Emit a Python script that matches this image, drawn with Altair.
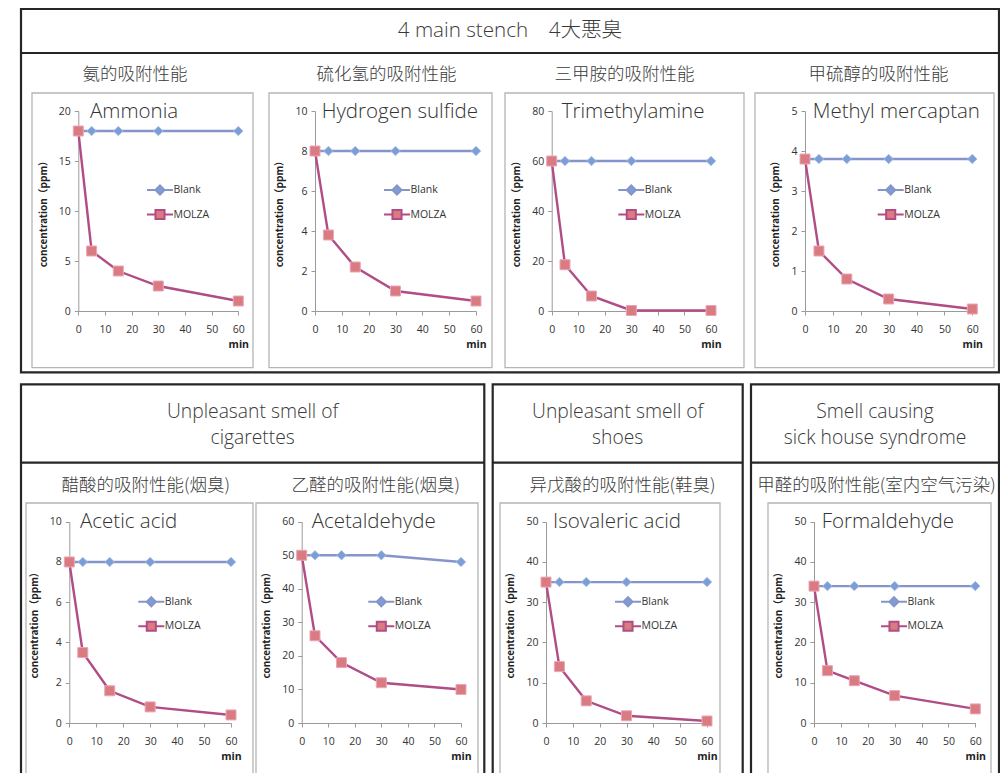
import altair as alt
import pandas as pd

# ---------------- data ----------------
TIMES = [0, 5, 15, 30, 60]
SERIES = ["Blank", "MOLZA"]

AMMONIA_BLANK = [18, 18, 18, 18, 18]
AMMONIA_MOLZA = [18, 6, 4, 2.5, 1]
H2S_BLANK = [8, 8, 8, 8, 8]
H2S_MOLZA = [8, 3.8, 2.2, 1.0, 0.5]
TMA_BLANK = [60, 60, 60, 60, 60]
TMA_MOLZA = [60, 18.5, 6, 0.2, 0.2]
MM_BLANK = [3.8, 3.8, 3.8, 3.8, 3.8]
MM_MOLZA = [3.8, 1.5, 0.8, 0.3, 0.05]
ACETIC_BLANK = [8, 8, 8, 8, 8]
ACETIC_MOLZA = [8, 3.5, 1.6, 0.8, 0.4]
ACETAL_BLANK = [50, 50, 50, 50, 48]
ACETAL_MOLZA = [50, 26, 18, 12, 10]
ISOVAL_BLANK = [35, 35, 35, 35, 35]
ISOVAL_MOLZA = [35, 14, 5.5, 1.8, 0.5]
FORMAL_BLANK = [34, 34, 34, 34, 34]
FORMAL_MOLZA = [34, 13, 10.5, 6.8, 3.5]

BLANKS = [AMMONIA_BLANK, H2S_BLANK, TMA_BLANK, MM_BLANK,
          ACETIC_BLANK, ACETAL_BLANK, ISOVAL_BLANK, FORMAL_BLANK]
MOLZAS = [AMMONIA_MOLZA, H2S_MOLZA, TMA_MOLZA, MM_MOLZA,
          ACETIC_MOLZA, ACETAL_MOLZA, ISOVAL_MOLZA, FORMAL_MOLZA]

PANEL_NAMES = ["Ammonia", "Hydrogen sulfide", "Trimethylamine", "Methyl mercaptan",
               "Acetic acid", "Acetaldehyde", "Isovaleric acid", "Formaldehyde"]
PANEL_SUBTITLES = ["氨的吸附性能", "硫化氢的吸附性能", "三甲胺的吸附性能", "甲硫醇的吸附性能",
                   "醋酸的吸附性能(烟臭)", "乙醛的吸附性能(烟臭)", "异戊酸的吸附性能(鞋臭)",
                   "甲醛的吸附性能(室内空气污染)"]
Y_TICKS = [[0, 5, 10, 15, 20], [0, 2, 4, 6, 8, 10], [0, 20, 40, 60, 80], [0, 1, 2, 3, 4, 5],
           [0, 2, 4, 6, 8, 10], [0, 10, 20, 30, 40, 50, 60], [0, 10, 20, 30, 40, 50],
           [0, 10, 20, 30, 40, 50]]
X_TICKS = [0, 10, 20, 30, 40, 50, 60]
X_UNIT = "min"
Y_TITLE = "concentration（ppm）"
HEADER_TOP = "4 main stench　4大悪臭"
HEADERS_BOTTOM = ["Unpleasant smell of\ncigarettes", "Unpleasant smell of\nshoes",
                  "Smell causing\nsick house syndrome"]

# ---------------- styling / layout (image pixel coords) ----------------
OX, OY = 8, 12
W, H = 992, 761


def X(v):
    return v - OX


def Y(v):
    return v - OY


LINE_COLORS = ["#8595c9", "#b04d87"]
MARK_FILLS = ["#7b9ed6", "#d97b80"]
MARK_STROKES = ["#a8bce6", "#eaa6b8"]
LEGEND_PATHS = [
    "M-1,0L0.3,0M1.7,0L3,0M1,-0.7L1.7,0L1,0.7L0.3,0Z",
    "M-1,0L0.3,0M1.7,0L3,0M0.3,-0.7L1.7,-0.7L1.7,0.7L0.3,0.7Z",
]
FRAME = "#262626"
BOX = "#b5b5b5"
TXT = "#3a3a3a"
LATIN = "Open Sans, Noto Sans CJK JP, sans-serif"
CJK_SC = "Noto Sans CJK SC, sans-serif"

TOP_FRAME = (21, 9, 999, 372.3)
TOP_DIV_Y = 53
BOTTOM_FRAMES = [(21, 484.3), (492.7, 742.7), (751, 999)]
BOTTOM_TOP, BOTTOM_DIV_Y, BOTTOM_END = 384.3, 462.7, 800

GRAY_BOX_X = [(32, 253), (269, 492), (505, 744), (755, 994),
              (26, 253), (256, 478), (500, 720), (768, 991)]
GRAY_BOX_Y = [(93, 367.7), (503, 800)]
DATA_X = [(78.3, 238.3), (315, 476), (551.7, 711), (805, 972.3),
          (69.3, 231), (301.7, 461), (546, 707), (814, 975.3)]
DATA_Y = [(111, 311), (521.7, 723)]
SUB_X = [135, 386.5, 624.5, 878.5, 145.8, 375.8, 622.5, 876.5]
SUB_Y = [74.5, 486]
TITLE_X = [90, 321.7, 561.7, 812.7, 80, 311.7, 553, 821.7]
TITLE_BASE = [117.5, 527.5]
LEG_X = [146, 383, 617.3, 876.7, 137.3, 367.3, 614, 880]
LEG_Y = [189, 600.7]

one = pd.DataFrame({"k": [0]})


def rect(x1, y1, x2, y2, stroke, sw):
    return alt.Chart(one).mark_rect(
        color="white", fillOpacity=0, stroke=stroke, strokeWidth=sw
    ).encode(x=alt.value(X(x1)), x2=alt.value(X(x2)), y=alt.value(Y(y1)), y2=alt.value(Y(y2)))


def hrule(x1, x2, y, stroke, sw):
    return alt.Chart(one).mark_rule(color=stroke, strokeWidth=sw).encode(
        x=alt.value(X(x1)), x2=alt.value(X(x2)), y=alt.value(Y(y)))


def text(label, x, y, **kw):
    return alt.Chart(pd.DataFrame({"label": [label]})).mark_text(**kw).encode(
        text="label:N", x=alt.value(X(x)), y=alt.value(Y(y)))


layers = []
# frames
layers.append(rect(*TOP_FRAME, FRAME, 2.2))
layers.append(hrule(TOP_FRAME[0], TOP_FRAME[2], TOP_DIV_Y, FRAME, 2.2))
for (x1, x2) in BOTTOM_FRAMES:
    layers.append(rect(x1, BOTTOM_TOP, x2, BOTTOM_END, FRAME, 2.2))
    layers.append(hrule(x1, x2, BOTTOM_DIV_Y, FRAME, 2.2))

# headers
layers.append(text(HEADER_TOP, (TOP_FRAME[0] + TOP_FRAME[2]) / 2, 31, font=LATIN, fontSize=20.6,
                   fontWeight=300, color=TXT, align="center", baseline="middle"))
for (x1, x2), label in zip(BOTTOM_FRAMES, HEADERS_BOTTOM):
    layers.append(text(label, (x1 + x2) / 2, 411.5, font=LATIN, fontSize=19.3, fontWeight=300,
                       color=TXT, align="center", baseline="middle", lineBreak="\n",
                       lineHeight=26.5))


def panel(i):
    row = 0 if i < 4 else 1
    xl, xr = DATA_X[i]
    yt, yb = DATA_Y[row]
    gx1, gx2 = GRAY_BOX_X[i]
    gy1, gy2 = GRAY_BOX_Y[row]
    parts = [rect(gx1, gy1, gx2, gy2, BOX, 1.3)]
    parts.append(text(PANEL_SUBTITLES[i], SUB_X[i], SUB_Y[row], font=CJK_SC, fontSize=17.5,
                      fontWeight=300, color=TXT, align="center", baseline="middle"))

    df = pd.DataFrame({"t": TIMES + TIMES, "v": BLANKS[i] + MOLZAS[i],
                       "s": [SERIES[0]] * 5 + [SERIES[1]] * 5})
    xs = alt.Scale(domain=[0, 60], range=[X(xl), X(xr)], nice=False, zero=False)
    ys = alt.Scale(domain=[0, Y_TICKS[i][-1]], range=[Y(yb), Y(yt)], nice=False, zero=True)
    x_axis = alt.Axis(orient="bottom", offset=Y(yb) - H, values=X_TICKS, title=X_UNIT,
                      titleX=X(xr), titleY=33, titleAlign="center", titleBaseline="middle",
                      titleFontWeight="bold", titleFontSize=10.5, titleColor="#222",
                      titleFont=LATIN, labelFlush=False, labelOverlap=False, grid=False,
                      labelPadding=9.5)
    y_axis = alt.Axis(orient="left", offset=-X(xl), values=Y_TICKS[i], title=Y_TITLE,
                      titleFontWeight="bold", titleFontSize=10, titleColor="#222",
                      titleFont="Noto Sans CJK JP, sans-serif", titlePadding=10,
                      grid=False, labelOverlap=False, labelPadding=4)
    base = alt.Chart(df)
    xe = alt.X("t:Q", scale=xs, axis=x_axis)
    ye = alt.Y("v:Q", scale=ys, axis=y_axis)
    blank = base.transform_filter(alt.datum.s == SERIES[0])
    molza = base.transform_filter(alt.datum.s == SERIES[1])
    blank_line = blank.mark_line(strokeWidth=2.4, color=LINE_COLORS[0]).encode(x=xe, y=ye)
    molza_line = molza.mark_line(strokeWidth=2.4, color=LINE_COLORS[1]).encode(x=xe, y=ye)
    blank_pts = blank.mark_point(
        filled=True, shape="diamond", size=90, fill=MARK_FILLS[0], stroke=MARK_STROKES[0],
        strokeWidth=0.8, opacity=1).encode(x=xe, y=ye)
    molza_pts = molza.mark_point(
        filled=True, shape="square", size=100, fill=MARK_FILLS[1], stroke=MARK_STROKES[1],
        strokeWidth=1, opacity=1).encode(x=xe, y=ye)
    leg = alt.Legend(orient="none", legendX=X(LEG_X[i]), legendY=Y(LEG_Y[row]) - 6.5,
                     title=None, symbolSize=169, symbolStrokeWidth=2, labelFont=LATIN,
                     labelFontSize=10.5, labelColor="#333", labelOffset=12.5, rowPadding=5.5,
                     padding=0, offset=0)
    legend_pts = base.mark_point(filled=True, size=0, opacity=1, strokeWidth=2).encode(
        x=xe, y=ye,
        fill=alt.Fill("s:N", scale=alt.Scale(domain=SERIES, range=MARK_FILLS), legend=leg),
        stroke=alt.Stroke("s:N", scale=alt.Scale(domain=SERIES, range=LINE_COLORS), legend=leg),
        shape=alt.Shape("s:N", scale=alt.Scale(domain=SERIES, range=LEGEND_PATHS), legend=leg))
    title = text(PANEL_NAMES[i], TITLE_X[i], TITLE_BASE[row], font=LATIN, fontSize=20.5,
                 fontWeight=300, color="#333", align="left", baseline="alphabetic")
    data_layer = alt.layer(blank_line, molza_line, blank_pts, molza_pts, legend_pts)
    return parts + [title, data_layer]


for i in range(8):
    layers.extend(panel(i))

chart = alt.layer(*layers).resolve_scale(
    x="independent", y="independent", fill="independent",
    stroke="independent", shape="independent"
).resolve_axis(x="independent", y="independent").resolve_legend(
    fill="independent", stroke="independent", shape="independent"
).properties(
    width=W, height=H, autosize=alt.AutoSizeParams(type="none"),
    padding={"left": 0, "top": 4, "right": 0, "bottom": 0}
).configure_view(strokeWidth=0).configure_axis(
    domainColor="#9a9a9a", tickColor="#9a9a9a", domainWidth=1, tickWidth=1, tickSize=4,
    labelColor="#333", labelFont=LATIN, labelFontSize=10.5
)

chart.save("out.html", embed_options={"renderer": "svg", "actions": False})
